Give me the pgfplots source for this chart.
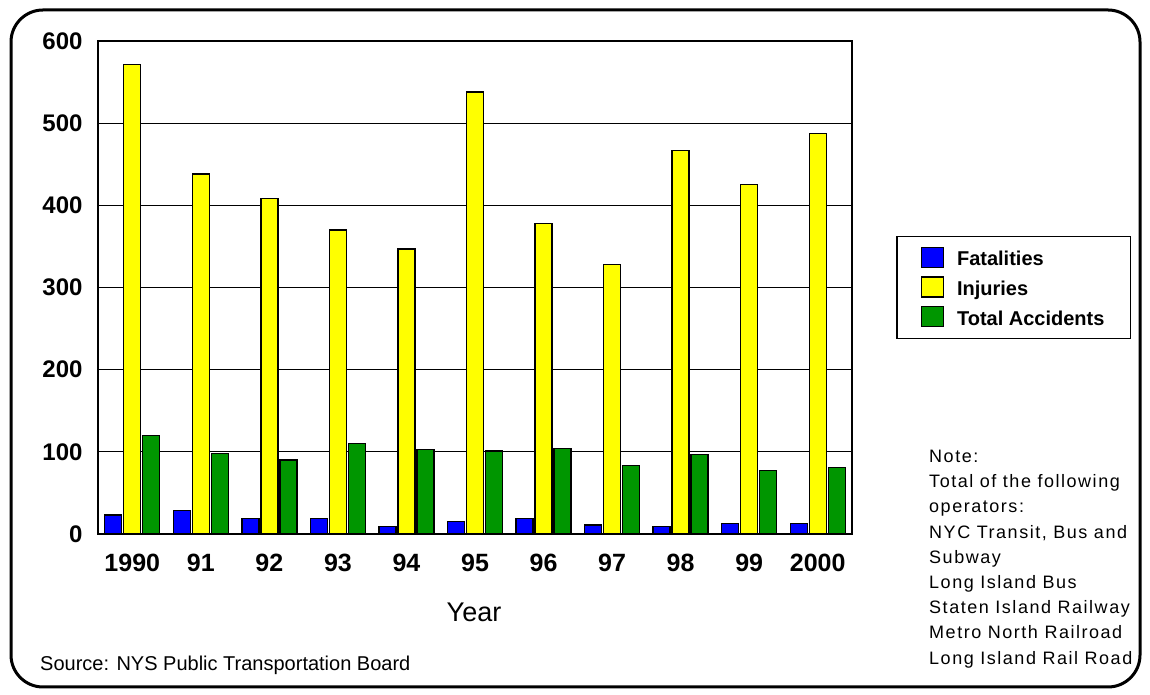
\documentclass[border=0pt]{standalone}
\usepackage{pgfplots}
\pgfplotsset{compat=1.18}
\usepackage{fontspec}
\setmainfont{Liberation Sans}
\newfontfamily\notefont[LetterSpace=8.5]{Liberation Sans}
\definecolor{fatal}{RGB}{0,0,255}
\definecolor{injur}{RGB}{255,255,0}
\definecolor{accid}{RGB}{0,150,0}
\begin{document}
\begin{tikzpicture}[x=1pt,y=1pt]
\path[use as bounding box] (0,0) rectangle (1150,695);
\draw[line width=3pt, rounded corners=32pt] (11,8) rectangle (1140,685);
\begin{axis}[
  at={(98pt,161pt)}, anchor=south west,
  scale only axis, width=754pt, height=493pt,
  xmin=-0.5, xmax=10.5, ymin=0, ymax=600,
  xtick={0,...,10},
  xticklabels={1990,91,92,93,94,95,96,97,98,99,2000},
  ytick={0,100,...,600},
  ymajorgrids, grid style={black, line width=1.2pt},
  axis line style={line width=1.8pt},
  major tick length=0pt,
  /pgf/number format/assume math mode=true,
  yticklabel style={font=\fontsize{24}{28}\selectfont\bfseries, xshift=-12pt},
  xticklabel style={font=\fontsize{25}{29}\selectfont\bfseries, yshift=-17pt},
  ybar=2pt, bar width=17pt,
  legend style={at={(1.0584,0.6045)}, anchor=north west, draw=black, line width=1.5pt,
    font=\fontsize{20}{24}\selectfont\bfseries, cells={anchor=west},
    inner xsep=24pt, inner ysep=10pt, row sep=7pt},
  legend image code/.code={\draw[#1,/tikz/.cd,line width=1.2pt] (0pt,-8pt) rectangle (22pt,12pt); \path (33pt,0pt);},
]
\addplot[fill=fatal, draw=black, line width=1.3pt] coordinates {
(0,23) (1,29) (2,19) (3,19) (4,9) (5,15) (6,19) (7,11) (8,9) (9,13) (10,13)};
\addplot[fill=injur, draw=black, line width=1.3pt] coordinates {
(0,571) (1,438) (2,408) (3,370) (4,347) (5,538) (6,378) (7,328) (8,467) (9,425) (10,487)};
\addplot[fill=accid, draw=black, line width=1.3pt] coordinates {
(0,120) (1,98) (2,90) (3,110) (4,103) (5,101) (6,104) (7,83) (8,97) (9,77) (10,81)};
\legend{Fatalities,Injuries,Total Accidents}
\end{axis}
\node[font=\fontsize{27}{32}\selectfont] at (474,83) {Year};
\node[font=\fontsize{20}{24}\selectfont, anchor=west, inner sep=0pt] at (40,30) {Source: NYS Public Transportation Board};
\node[font=\notefont\fontsize{18}{25.2}\selectfont, anchor=north west, align=left, inner sep=0pt] at (929,245)
{Note:\\Total of the following\\operators:\\NYC Transit, Bus and\\Subway\\Long Island Bus\\Staten Island Railway\\Metro North Railroad\\Long Island Rail Road};
\end{tikzpicture}
\end{document}
